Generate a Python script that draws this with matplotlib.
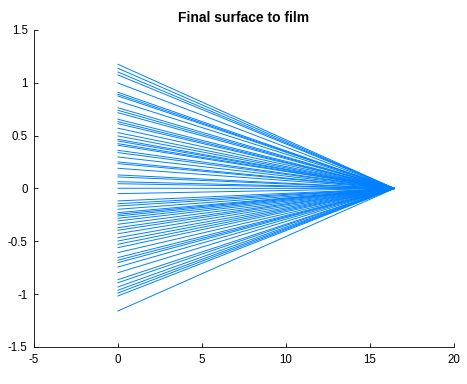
import matplotlib
matplotlib.use('Agg')
import matplotlib.pyplot as plt

# ray heights at the last surface (x = 0)
start_y = [1.175, 1.137, 1.102, 1.074, 0.998, 0.910, 0.891, 0.875, 0.828, 0.764,
           0.740, 0.717, 0.655, 0.632, 0.613, 0.570, 0.528, 0.497, 0.465, 0.449,
           0.424, 0.409, 0.361, 0.339, 0.298, 0.251, 0.235, 0.191, 0.128, 0.109,
           0.064, 0.045, 0.002, -0.049, -0.118, -0.144, -0.166, -0.197, -0.229,
           -0.244, -0.260, -0.282, -0.307, -0.339, -0.371, -0.395, -0.428, -0.465,
           -0.497, -0.528, -0.560, -0.607, -0.654, -0.679, -0.702, -0.743, -0.797,
           -0.863, -0.892, -0.932, -0.963, -0.989, -1.017, -1.159]
start_x = 0.0
film_x = 16.45
film_y = 0.0

xticks = [-5, 0, 5, 10, 15, 20]
yticks = [-1.5, -1, -0.5, 0, 0.5, 1, 1.5]
ylabels = ['-1.5', '-1', '-0.5', '0', '0.5', '1', '1.5']

plt.rcParams['font.family'] = ['Liberation Sans', 'DejaVu Sans']

fig = plt.figure(figsize=(4.67, 3.84), dpi=100)
ax = fig.add_axes([0.0728, 0.0964, 0.8992, 0.8256])

for y0 in start_y:
    ax.plot([start_x, film_x], [y0, film_y], color='#0080ff', lw=0.7)

ax.set_xlim(-5, 20)
ax.set_ylim(-1.5, 1.5)
ax.set_xticks(xticks)
ax.set_xticklabels([str(t) for t in xticks])
ax.set_yticks(yticks)
ax.set_yticklabels(ylabels)
ax.tick_params(direction='in', length=3, width=0.6, labelsize=8.3)
ax.tick_params(axis='x', pad=5)
ax.tick_params(axis='y', pad=4.5)
ax.spines['top'].set_visible(False)
ax.spines['right'].set_visible(False)
ax.spines['left'].set_linewidth(0.6)
ax.spines['bottom'].set_linewidth(0.6)
ax.set_title('Final surface to film', fontsize=10, fontweight='bold', pad=6)

fig.savefig('out.png', dpi=100)
